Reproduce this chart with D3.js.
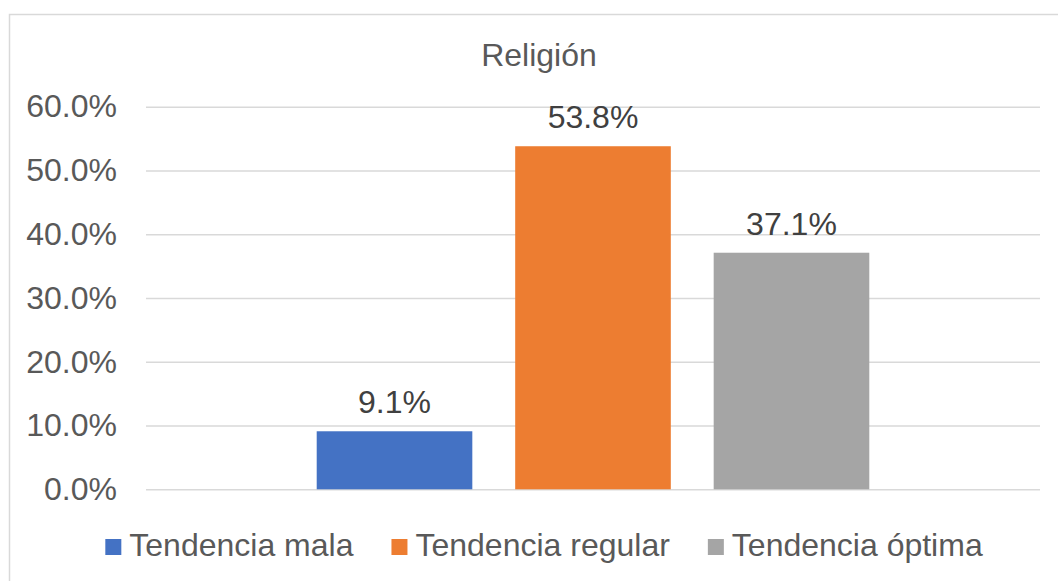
<!DOCTYPE html>
<html>
<head>
<meta charset="utf-8">
<script src="https://cdn.jsdelivr.net/npm/d3@7"></script>
<style>
  body { margin: 0; background: #fff; }
  text { font-family: "Liberation Sans", Arial, sans-serif; }
</style>
</head>
<body>
<div id="chart"></div>
<script>
const title = "Religión";
const category = "Religión";
const series = ["Tendencia mala", "Tendencia regular", "Tendencia óptima"];
const values = [0.091, 0.538, 0.371];
const colors = ["#4472c4", "#ed7d31", "#a5a5a5"];
const yTicks = [0, 0.1, 0.2, 0.3, 0.4, 0.5, 0.6];

const W = 1058, H = 581;
const margin = { top: 106.7, right: 18, bottom: 91.7, left: 146 };
const pw = W - margin.left - margin.right;
const ph = H - margin.top - margin.bottom;
const fs = 32;
const fmt = d3.format(".1%");

const svg = d3.select("#chart")
  .append("svg")
  .attr("width", W)
  .attr("height", H);

// chart border (right and bottom edges fall outside the picture)
svg.append("rect")
  .attr("x", 9.5).attr("y", 14.5)
  .attr("width", 1100).attr("height", 600)
  .attr("fill", "none")
  .attr("stroke", "#d9d9d9")
  .attr("stroke-width", 1.5);

svg.append("text")
  .attr("x", 539)
  .attr("y", 66)
  .attr("text-anchor", "middle")
  .attr("font-size", fs)
  .attr("fill", "#595959")
  .text(title);

const g = svg.append("g")
  .attr("transform", `translate(${margin.left},${margin.top})`);

const y = d3.scaleLinear().domain([0, 0.6]).range([ph, 0]);
const x0 = d3.scaleBand().domain([category]).range([0, pw]);
const x1 = d3.scaleBand().domain(series)
  .range([0, x0.bandwidth()])
  .paddingInner(0.216)
  .paddingOuter(0.86);

const yAxis = g.append("g")
  .call(d3.axisLeft(y).tickValues(yTicks).tickFormat(fmt)
    .tickSize(-pw).tickPadding(29));
yAxis.select(".domain").remove();
yAxis.selectAll(".tick line")
  .attr("stroke", "#d9d9d9")
  .attr("stroke-width", 1.5);
yAxis.selectAll(".tick text")
  .attr("font-size", fs)
  .attr("font-family", "Liberation Sans, Arial, sans-serif")
  .attr("fill", "#595959");

const bars = g.append("g")
  .attr("transform", `translate(${x0(category)},0)`);

bars.selectAll("rect")
  .data(series)
  .join("rect")
  .attr("x", d => x1(d))
  .attr("y", (d, i) => y(values[i]))
  .attr("width", x1.bandwidth())
  .attr("height", (d, i) => ph - y(values[i]))
  .attr("fill", (d, i) => colors[i]);

bars.selectAll("text")
  .data(series)
  .join("text")
  .attr("x", d => x1(d) + x1.bandwidth() / 2)
  .attr("y", (d, i) => y(values[i]) - 18)
  .attr("text-anchor", "middle")
  .attr("font-size", fs)
  .attr("fill", "#404040")
  .text((d, i) => fmt(values[i]));

// legend, centred under the chart
const legend = svg.append("g");
const items = legend.selectAll("g")
  .data(series)
  .join("g");
items.append("rect")
  .attr("y", 539)
  .attr("width", 16)
  .attr("height", 16)
  .attr("fill", (d, i) => colors[i]);
items.append("text")
  .attr("x", 24)
  .attr("y", 556)
  .attr("font-size", fs)
  .attr("fill", "#595959")
  .text(d => d);

let lx = 0;
items.each(function() {
  const w = 24 + this.querySelector("text").getComputedTextLength();
  d3.select(this).attr("transform", `translate(${lx},0)`);
  lx += w + 38;
});
const legendW = lx - 38;
legend.attr("transform", `translate(${544 - legendW / 2},0)`);
</script>
</body>
</html>
